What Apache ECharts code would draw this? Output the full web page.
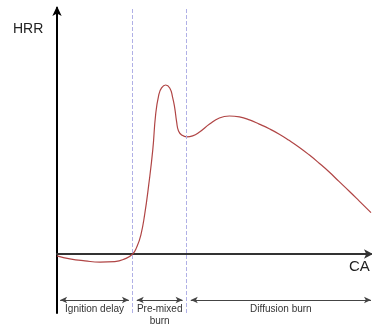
<!DOCTYPE html>
<html>
<head>
<meta charset="utf-8">
<script src="https://cdn.jsdelivr.net/npm/echarts@6/dist/echarts.min.js"></script>
<style>
html,body{margin:0;padding:0;background:#fff;}
#chart{width:372px;height:325px;}
</style>
</head>
<body>
<div id="chart"></div>
<script>
// crank angle (arbitrary units) and heat release rate
var caValues = [0, 4.1, 8.9, 13.7, 18.4, 21.6, 24.1, 25.4, 26.7, 27.9, 29.2, 30.5, 31.4, 32.4, 33.3, 34.6,
    35.9, 36.8, 37.5, 38.1, 38.7, 39.7, 41.3, 43.2, 45.4, 48.6, 51.7, 54.9, 58.1, 61.3, 64.4, 67.6,
    70.8, 73.9, 77.1, 80.3, 83.5, 86.7, 89.8, 93.0, 96.2, 100];
var hrrValues = [-0.8, -2.0, -2.8, -3.3, -3.1, -2.0, 0, 2.8, 7.7, 15.9, 28.0, 42.3, 56.5, 64.6, 67.5, 68.7,
    67.5, 63.8, 59.3, 53.7, 50.0, 48.4, 47.6, 48.0, 49.6, 52.8, 55.3, 56.1, 55.7, 54.5, 52.8, 50.9,
    48.7, 46.2, 43.4, 40.3, 36.9, 33.3, 29.5, 25.6, 21.6, 16.8];

// combustion phases
var phaseNames = ['Ignition delay', 'Pre-mixed\nburn', 'Diffusion burn'];
var phaseStart = [1, 25.4, 42.6];
var phaseEnd = [22.9, 40, 100];
var phaseBounds = [24.1, 41.3];
var phaseRowY = -18.7;

var curve = [];
for (var i = 0; i < caValues.length; i++) {
    curve.push([caValues[i], hrrValues[i]]);
}

var arrows = [];
for (var j = 0; j < phaseNames.length; j++) {
    arrows.push([
        {coord: [phaseStart[j], phaseRowY], name: phaseNames[j]},
        {coord: [phaseEnd[j], phaseRowY]}
    ]);
}

var chart = echarts.init(document.getElementById('chart'));
chart.setOption({
    animation: false,
    grid: {left: 57, right: 1, top: 8, bottom: 12},
    xAxis: {
        type: 'value', min: 0, max: 100,
        axisLine: {onZero: true, symbol: ['none', 'arrow'], symbolSize: [7, 9], symbolOffset: [0, 2],
            lineStyle: {color: '#333', width: 2}},
        axisTick: {show: false}, axisLabel: {show: false}, splitLine: {show: false}
    },
    yAxis: {
        type: 'value', min: -24, max: 100,
        axisLine: {show: true, onZero: false, symbol: ['none', 'arrow'], symbolSize: [7, 10], symbolOffset: [0, 2],
            lineStyle: {color: '#000', width: 2}},
        axisTick: {show: false}, axisLabel: {show: false}, splitLine: {show: false}
    },
    graphic: [
        {type: 'text', left: 13, top: 22, style: {text: 'HRR', fill: '#222', font: '14px "Liberation Sans", Arial, sans-serif'}},
        {type: 'text', left: 349, top: 259, style: {text: 'CA', fill: '#222', font: '15px "Liberation Sans", Arial, sans-serif'}}
    ],
    series: [
        {
            type: 'line',
            data: curve,
            smooth: 0.5,
            showSymbol: false,
            lineStyle: {color: '#b04545', width: 1.2},
            markLine: {
                silent: true,
                symbol: ['none', 'none'],
                label: {show: false},
                lineStyle: {color: '#b0b0e6', type: [4, 2], width: 1},
                data: phaseBounds.map(function (v) { return {xAxis: v}; })
            }
        },
        {
            type: 'line',
            data: [],
            markLine: {
                silent: true,
                symbol: ['arrow', 'arrow'],
                symbolSize: [5, 7],
                lineStyle: {color: '#444', type: 'solid', width: 1},
                label: {
                    show: true,
                    position: 'insideMiddleBottom',
                    formatter: '{b}',
                    color: '#333',
                    fontSize: 10,
                    lineHeight: 12,
                    distance: 3,
                    fontFamily: '"Liberation Sans", Arial, sans-serif'
                },
                data: arrows
            }
        }
    ]
});
</script>
</body>
</html>
